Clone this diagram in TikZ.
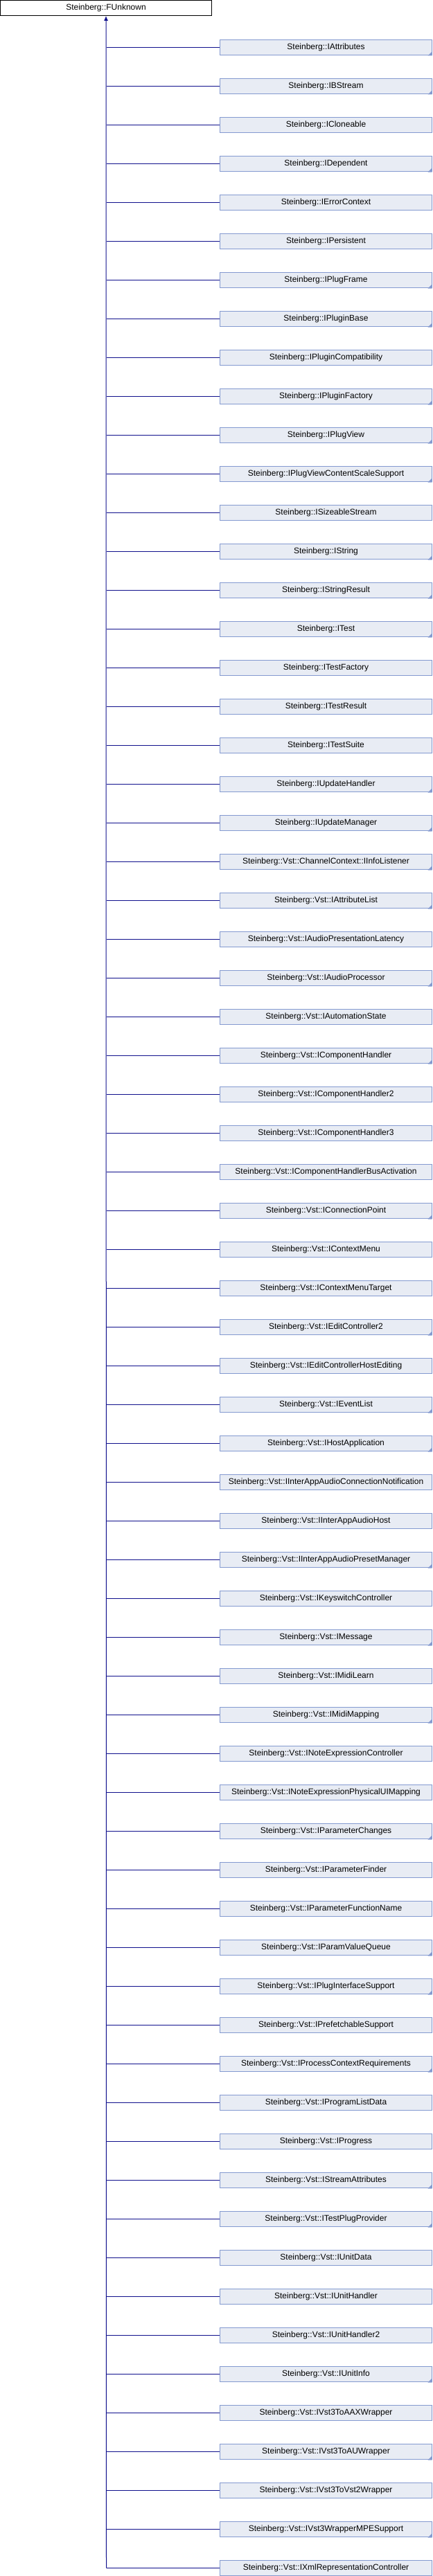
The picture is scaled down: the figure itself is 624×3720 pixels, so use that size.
\documentclass[tikz,border=0pt]{standalone}
\usepackage{fontspec}
\setmainfont{Liberation Sans}
\usetikzlibrary{arrows.meta}
\definecolor{boxfill}{RGB}{232,236,244}
\definecolor{boxdraw}{RGB}{132,154,208}
\definecolor{linkcol}{RGB}{16,16,140}
\tikzset{
  rootbox/.style={draw=black, fill=white, line width=1pt, minimum width=305pt, minimum height=22pt, inner sep=0pt, font=\fontsize{12}{14}\selectfont},
  childbox/.style={draw=boxdraw, fill=boxfill, line width=1pt, minimum width=306pt, minimum height=22pt, inner sep=0pt, font=\fontsize{12}{14}\selectfont},
  conn/.style={draw=linkcol, line width=1pt},
  cornermark/.style={fill=boxdraw}
}
\begin{document}
\begin{tikzpicture}[x=1pt,y=-1pt]
\useasboundingbox (0,0) rectangle (624,3720);
\node[rootbox] (root) at (153,11.5) {Steinberg::FUnknown};
\foreach \nm/\fl [count=\i] in {
Steinberg::IAttributes/1,
Steinberg::IBStream/1,
Steinberg::ICloneable/0,
Steinberg::IDependent/1,
Steinberg::IErrorContext/0,
Steinberg::IPersistent/0,
Steinberg::IPlugFrame/1,
Steinberg::IPluginBase/1,
Steinberg::IPluginCompatibility/0,
Steinberg::IPluginFactory/1,
Steinberg::IPlugView/1,
Steinberg::IPlugViewContentScaleSupport/1,
Steinberg::ISizeableStream/0,
Steinberg::IString/1,
Steinberg::IStringResult/1,
Steinberg::ITest/1,
Steinberg::ITestFactory/0,
Steinberg::ITestResult/0,
Steinberg::ITestSuite/0,
Steinberg::IUpdateHandler/1,
Steinberg::IUpdateManager/1,
Steinberg::Vst::ChannelContext::IInfoListener/1,
Steinberg::Vst::IAttributeList/1,
Steinberg::Vst::IAudioPresentationLatency/0,
Steinberg::Vst::IAudioProcessor/1,
Steinberg::Vst::IAutomationState/0,
Steinberg::Vst::IComponentHandler/1,
Steinberg::Vst::IComponentHandler2/0,
Steinberg::Vst::IComponentHandler3/0,
Steinberg::Vst::IComponentHandlerBusActivation/0,
Steinberg::Vst::IConnectionPoint/1,
Steinberg::Vst::IContextMenu/0,
Steinberg::Vst::IContextMenuTarget/0,
Steinberg::Vst::IEditController2/1,
Steinberg::Vst::IEditControllerHostEditing/0,
Steinberg::Vst::IEventList/1,
Steinberg::Vst::IHostApplication/1,
Steinberg::Vst::IInterAppAudioConnectionNotification/0,
Steinberg::Vst::IInterAppAudioHost/0,
Steinberg::Vst::IInterAppAudioPresetManager/1,
Steinberg::Vst::IKeyswitchController/0,
Steinberg::Vst::IMessage/1,
Steinberg::Vst::IMidiLearn/0,
Steinberg::Vst::IMidiMapping/1,
Steinberg::Vst::INoteExpressionController/0,
Steinberg::Vst::INoteExpressionPhysicalUIMapping/0,
Steinberg::Vst::IParameterChanges/1,
Steinberg::Vst::IParameterFinder/0,
Steinberg::Vst::IParameterFunctionName/0,
Steinberg::Vst::IParamValueQueue/1,
Steinberg::Vst::IPlugInterfaceSupport/1,
Steinberg::Vst::IPrefetchableSupport/0,
Steinberg::Vst::IProcessContextRequirements/1,
Steinberg::Vst::IProgramListData/0,
Steinberg::Vst::IProgress/0,
Steinberg::Vst::IStreamAttributes/1,
Steinberg::Vst::ITestPlugProvider/1,
Steinberg::Vst::IUnitData/0,
Steinberg::Vst::IUnitHandler/0,
Steinberg::Vst::IUnitHandler2/0,
Steinberg::Vst::IUnitInfo/1,
Steinberg::Vst::IVst3ToAAXWrapper/0,
Steinberg::Vst::IVst3ToAUWrapper/1,
Steinberg::Vst::IVst3ToVst2Wrapper/0,
Steinberg::Vst::IVst3WrapperMPESupport/1,
Steinberg::Vst::IXmlRepresentationController/0}
{
  \pgfmathsetmacro{\yy}{68.5+56*(\i-1)}
  \node[childbox] (c\i) at (470.5,\yy) {\nm};
  \ifnum\fl=1
    \fill[cornermark] ([xshift=-0.5pt,yshift=-0.5pt]c\i.south east) -- ++(-6,0) -- ++(6,-6) -- cycle;
  \fi
  \draw[conn] (153.5,\yy) -- (c\i.west);
}
\coordinate (trunkend) at (153.5,3708.5);
\draw[conn, {Latex[length=7pt,width=6pt]}-] (root.south) -- (trunkend);
\end{tikzpicture}
\end{document}
